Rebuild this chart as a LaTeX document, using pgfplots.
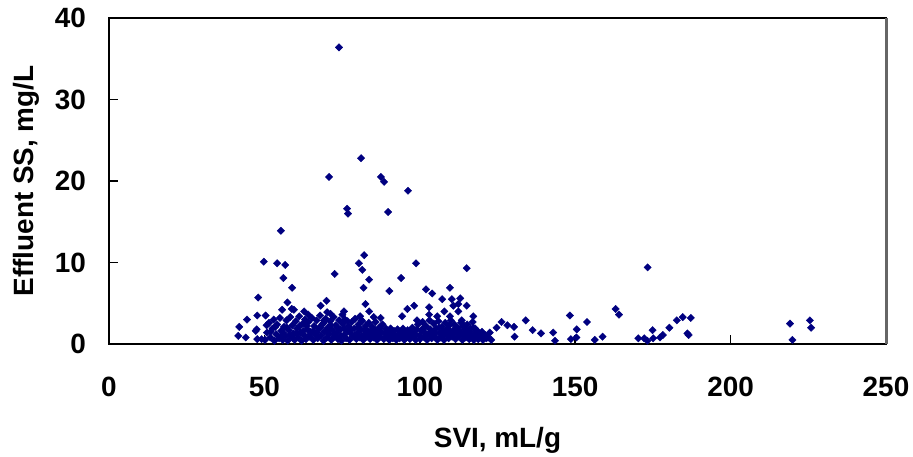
\documentclass[border=0pt]{standalone}
\usepackage{fontspec}
\setmainfont{Liberation Sans}
\usepackage{pgfplots}
\pgfplotsset{compat=1.18}
\usepackage{pgfplotstable}
\definecolor{navy}{RGB}{0,0,128}
\pgfplotstableread{
x y
41.6 1.0
41.9 2.1
44.0 0.8
44.4 3.0
47.2 1.6
47.5 1.8
47.7 0.6
47.7 3.5
48.0 5.7
49.1 0.6
49.8 10.1
50.4 3.5
50.7 2.3
53.0 3.0
54.1 9.9
55.3 13.9
55.7 4.2
56.1 8.1
56.7 9.7
57.4 5.1
58.9 6.9
58.8 4.3
59.5 4.2
62.8 4.0
64.1 3.6
68.1 4.7
70.0 5.3
70.2 3.9
71.3 3.7
72.6 8.6
75.6 4.0
75.1 3.6
80.4 9.9
81.5 9.1
82.1 10.9
83.7 7.9
81.9 6.9
82.5 4.9
83.7 4.0
85.2 3.3
87.4 3.2
80.8 3.4
81.3 2.9
69.2 2.9
90.2 6.5
94.0 8.1
98.8 9.9
98.2 4.7
96.0 4.3
94.3 3.4
99.1 2.9
102.0 6.7
104.0 6.2
109.7 6.9
107.2 5.5
110.3 5.5
112.4 4.9
103.0 4.5
107.9 4.0
112.4 4.0
109.7 3.4
117.2 3.4
105.6 3.4
113.5 2.9
103.0 3.6
115.1 9.3
117.8 1.9
114.5 2.1
121.0 1.1
122.0 0.8
113.0 5.6
115.1 4.7
110.8 4.7
124.7 2.0
74.0 36.4
70.8 20.5
81.1 22.8
87.5 20.5
88.5 19.9
96.2 18.8
76.6 16.6
76.9 16.0
89.8 16.2
126.3 2.7
128.2 2.3
130.3 2.1
130.5 0.9
134.1 2.9
136.3 1.7
139.0 1.3
142.9 1.4
143.5 0.4
148.3 3.5
148.6 0.6
150.4 0.8
150.5 1.8
153.8 2.7
156.3 0.5
158.8 0.9
163.0 4.3
164.1 3.6
170.3 0.7
172.2 0.7
173.2 0.4
173.3 9.4
174.9 1.7
175.1 0.7
177.3 0.8
178.2 1.1
180.3 2.0
182.7 2.9
184.6 3.3
187.2 3.2
186.1 1.3
186.5 1.1
219.1 2.5
219.9 0.5
225.5 2.9
225.9 2.0
50.2 0.5
50.8 1.4
51.5 2.6
51.9 0.8
52.6 1.9
53.2 0.4
53.8 1.2
54.1 2.4
54.7 0.7
55.0 3.2
55.4 1.6
55.9 0.5
56.3 2.1
56.8 1.0
57.1 2.9
57.5 0.4
57.9 1.7
58.3 3.3
58.6 0.9
59.0 2.3
59.4 1.3
59.8 0.5
60.1 2.8
60.5 1.9
60.9 0.8
61.2 3.4
61.6 1.4
62.0 0.4
62.3 2.5
62.7 1.1
63.1 3.0
63.4 0.6
63.8 1.8
64.2 2.7
64.6 0.9
64.9 1.5
65.3 3.2
65.7 0.5
66.0 2.2
66.4 1.2
66.8 2.9
67.1 0.7
67.5 1.9
67.9 3.5
68.2 1.0
68.6 2.4
69.0 0.4
69.3 1.5
69.7 3.1
70.1 0.8
70.4 2.0
70.8 1.2
71.2 2.8
71.5 0.5
71.9 1.7
72.3 3.3
72.6 0.9
73.0 2.3
73.4 1.4
73.7 0.6
74.1 2.9
74.5 1.8
74.8 0.4
75.2 2.5
75.6 1.1
75.9 3.0
76.3 0.7
76.7 1.6
77.0 2.2
77.4 0.5
77.8 1.3
78.1 2.7
78.5 0.9
78.9 1.9
79.2 3.1
79.6 0.6
80.0 1.4
80.3 2.4
80.7 0.8
81.1 1.8
81.4 2.8
81.8 0.5
82.2 1.2
82.5 2.2
82.9 0.9
83.3 1.6
83.6 2.6
84.0 0.6
84.4 1.3
84.7 2.1
85.1 0.8
85.5 1.7
85.8 2.7
86.2 0.5
86.6 1.2
86.9 2.0
87.3 0.9
87.7 1.5
88.0 2.4
88.4 0.6
88.8 1.3
89.1 1.9
89.5 0.8
89.9 1.4
90.2 0.5
90.6 1.9
91.0 1.1
91.3 0.7
91.7 1.6
92.1 1.0
92.4 0.5
92.8 1.8
93.2 1.2
93.5 0.7
93.9 1.5
94.3 0.9
94.6 1.9
95.0 0.5
95.4 1.3
95.7 0.8
96.1 1.7
96.5 1.1
96.8 0.6
97.2 1.5
97.6 2.0
97.9 0.9
98.3 1.3
98.7 0.5
99.0 1.8
99.4 2.4
99.8 1.0
100.1 0.6
100.5 1.6
100.9 2.7
101.2 0.9
101.6 1.4
102.0 2.2
102.3 0.5
102.7 1.2
103.1 2.9
103.4 1.8
103.8 0.7
104.2 1.5
104.5 2.5
104.9 0.9
105.3 1.9
105.6 0.5
106.0 2.8
106.4 1.3
106.7 0.8
107.1 2.1
107.5 1.6
107.8 0.5
108.2 2.6
108.6 1.1
108.9 1.9
109.3 0.7
109.7 1.4
110.0 2.9
110.4 0.9
110.8 1.7
111.1 2.4
111.5 0.6
111.9 1.3
112.2 2.0
112.6 0.9
113.0 1.5
113.3 2.6
113.7 0.5
114.1 1.2
114.4 1.8
114.8 0.8
115.2 2.4
115.5 1.4
115.9 0.6
116.3 1.9
116.6 1.0
117.0 2.7
117.4 0.5
117.7 1.3
118.1 0.8
118.5 1.6
118.8 0.6
119.2 1.2
119.6 0.9
120.0 1.5
120.3 0.5
120.7 1.0
121.4 0.7
122.5 1.4
123.0 0.5
52.0 1.5
53.5 2.1
55.2 0.9
56.0 1.4
57.2 2.0
58.0 1.1
59.2 0.7
60.3 1.3
61.4 2.2
62.5 1.6
63.6 2.2
64.7 1.2
65.8 1.6
66.9 1.4
68.0 2.0
69.1 2.6
70.2 1.6
71.3 2.3
72.4 1.2
73.5 2.0
74.6 1.0
75.7 1.9
76.8 2.8
77.9 1.8
79.0 1.0
80.1 2.0
81.2 1.0
82.3 1.7
83.4 1.1
84.5 1.7
85.6 1.1
86.7 1.6
101.0 1.9
103.6 1.0
105.0 1.4
106.2 2.0
107.3 1.0
108.4 1.5
109.5 2.3
110.6 1.2
111.7 1.8
112.8 1.2
113.9 2.2
115.0 1.0
116.1 1.5
117.2 2.0
}\svidata
\begin{document}
\begin{tikzpicture}
\useasboundingbox (-54.5bp,-56.5bp) rectangle (402bp,172bp);
\begin{axis}[
  scale only axis,
  width=388.5bp, height=163bp,
  xmin=0, xmax=250, ymin=0, ymax=40,
  xtick={0,50,...,250}, ytick={0,10,...,40},
  tick align=inside,
  xtick pos=bottom, ytick pos=left,
  major tick length=4.5bp,
  tick style={black, line width=0.8bp},
  axis line style={black, line width=1bp},
  /pgf/number format/assume math mode=true,
  ticklabel style={font=\fontsize{14}{16}\selectfont\bfseries},
  x tick label style={yshift=-13bp},
  y tick label style={xshift=-8bp},
  xlabel={SVI, mL/g},
  ylabel={Effluent SS, mg/L},
  xlabel style={font=\fontsize{14}{16}\selectfont\bfseries, at={(axis description cs:0.5,-0.319)}, anchor=base},
  ylabel style={font=\fontsize{14}{16}\selectfont\bfseries, at={(axis description cs:-0.0978,0.5)}, anchor=base},
  clip=false,
]
\addplot[only marks, mark=square*, mark size=1.3bp, mark options={rotate=45, fill=navy, draw=navy, line width=0.2bp}] table[x=x, y=y] {\svidata};
\draw[gray!80!black, line width=1.5bp] (rel axis cs:1,0) -- (rel axis cs:1,1);
\end{axis}
\end{tikzpicture}
\end{document}
